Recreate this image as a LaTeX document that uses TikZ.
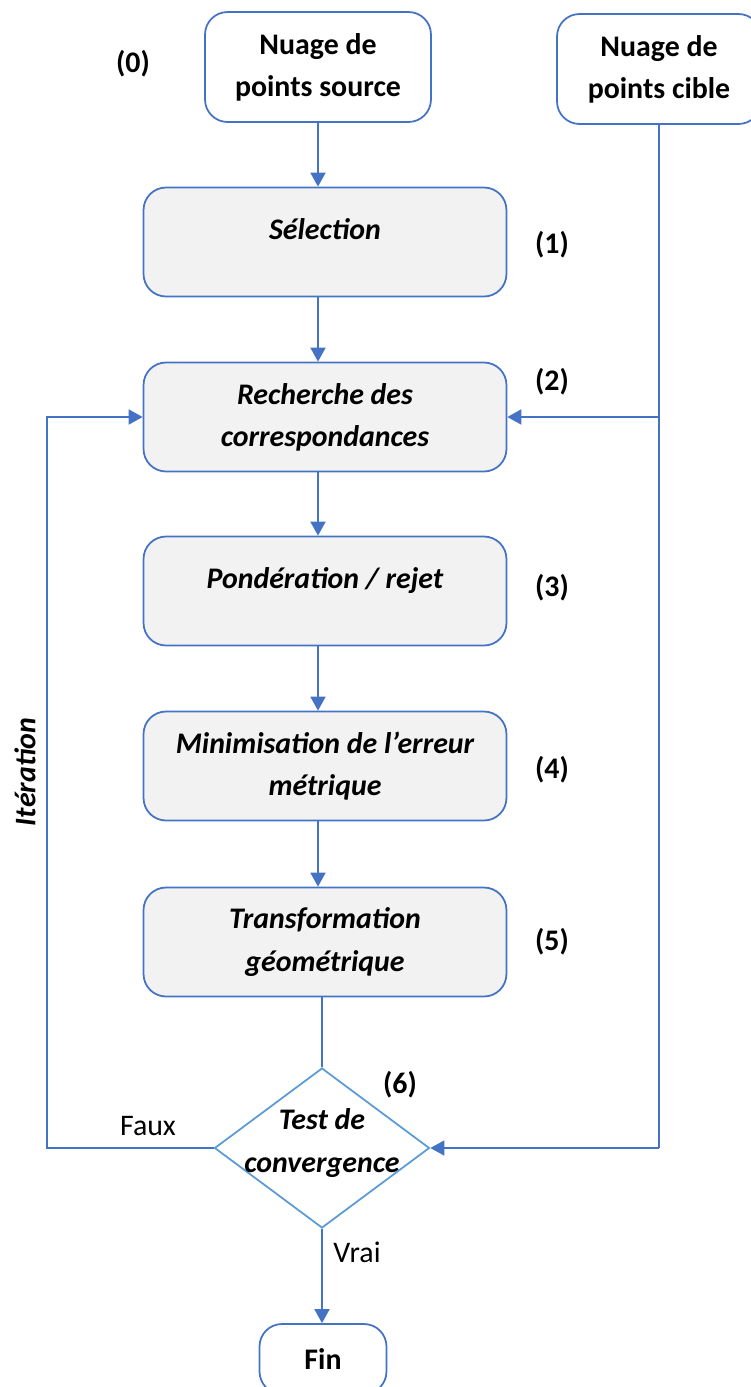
\documentclass[tikz,border=0pt]{standalone}
\usepackage{fontspec}
\setmainfont{Carlito}
\usetikzlibrary{shapes.geometric,arrows.meta}
\definecolor{flowblue}{HTML}{4472C4}
\definecolor{diamblue}{HTML}{5B9BD5}
\definecolor{stepgray}{HTML}{F2F2F2}
\tikzset{
  cloudbox/.style={draw=flowblue, line width=1pt, rounded corners=0.45cm, fill=white,
    minimum height=2.2cm, align=center, font=\bfseries},
  stepbox/.style={draw=flowblue, line width=1pt, rounded corners=0.45cm, fill=stepgray,
    minimum width=7.26cm, minimum height=2.18cm, align=center, font=\bfseries\itshape},
  onerow/.style={text height=11pt, text depth=14pt},
  testbox/.style={draw=diamblue, line width=1pt, shape=diamond, minimum width=4.3cm,
    minimum height=3.2cm, inner sep=0pt, fill=white},
  stepnum/.style={font=\bfseries},
  flow/.style={draw=flowblue, line width=1pt, -{Triangle[width=0.3cm,length=0.28cm]}},
  link/.style={draw=flowblue, line width=1pt},
}
\begin{document}
\fontsize{17}{24}\selectfont
\begin{tikzpicture}[x=0.02cm, y=-0.02cm]
\useasboundingbox (0,0) rectangle (751,1387);

% Point clouds
\node[cloudbox, minimum width=4.52cm] (src) at (318,67) {Nuage de\\points source};
\node[cloudbox, minimum width=4.08cm] (tgt) at (659,69) {Nuage de\\points cible};

% ICP steps
\node[stepbox, onerow] (sel) at (325,242) {Sélection};
\node[stepbox] (corr) at (325,417) {Recherche des\\correspondances};
\node[stepbox, onerow] (pond) at (325,591) {Pondération / rejet};
\node[stepbox] (mini) at (325,766) {Minimisation de l’erreur\\métrique};
\node[stepbox] (trans) at (325,942) {Transformation\\géométrique};

% Convergence test and end
\node[testbox, label={[font=\bfseries\itshape, align=center, yshift=0.1cm]center:{Test de\\convergence}}] (test) at (322,1148) {};
\node[cloudbox, minimum width=2.54cm, minimum height=1.4cm] (fin) at (323,1359) {Fin};

% Step numbers
\node[stepnum] (n0) at (133,64) {(0)};
\node[stepnum] (n1) at (552,245) {(1)};
\node[stepnum] (n2) at (552,382) {(2)};
\node[stepnum] (n3) at (552,588) {(3)};
\node[stepnum] (n4) at (552,770) {(4)};
\node[stepnum] (n5) at (552,942) {(5)};
\node[stepnum] (n6) at (400,1085) {(6)};

% Branch labels
\node (faux) at (148,1126) {Faux};
\node (vrai) at (357,1252) {Vrai};
\node[font=\bfseries\itshape, rotate=90] (iter) at (25,772) {Itération};

% Main chain
\draw[flow] (src.south) -- (src.south |- sel.north);
\draw[flow] (src.south |- sel.south) -- (src.south |- corr.north);
\draw[flow] (src.south |- corr.south) -- (src.south |- pond.north);
\draw[flow] (src.south |- pond.south) -- (src.south |- mini.north);
\draw[flow] (src.south |- mini.south) -- (src.south |- trans.north);
\draw[link] (test.north |- trans.south) -- (test.north);
\draw[flow] (test.south) -- (test.south |- fin.north);

% Iteration loop
\coordinate (loopL) at (47,0);
\draw[flow] (test.west) -- (test.west -| loopL) |- (corr.west);

% Target cloud feeds
\draw[link] (tgt.south) -- (tgt.south |- test.east);
\draw[flow] (tgt.south |- corr.east) -- (corr.east);
\draw[flow] (tgt.south |- test.east) -- (test.east);
\end{tikzpicture}
\end{document}
